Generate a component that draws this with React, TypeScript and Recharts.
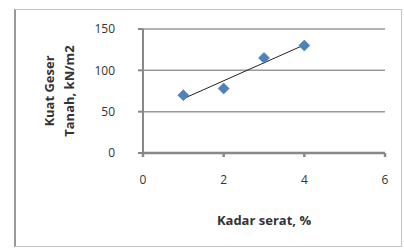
import { ScatterChart, Scatter, XAxis, YAxis, CartesianGrid, ReferenceLine } from 'recharts';

const fiberContent = [1, 2, 3, 4];
const shearStrength = [70, 78, 115, 130];
const xTicks = [0, 2, 4, 6];
const yTicks = [0, 50, 100, 150];

const points = fiberContent.map((x, i) => ({ x, y: shearStrength[i] }));

// linear trendline (least squares) like Excel's
const n = points.length;
const meanX = fiberContent.reduce((a, b) => a + b, 0) / n;
const meanY = shearStrength.reduce((a, b) => a + b, 0) / n;
const slope =
  points.reduce((s, p) => s + (p.x - meanX) * (p.y - meanY), 0) /
  points.reduce((s, p) => s + (p.x - meanX) ** 2, 0);
const intercept = meanY - slope * meanX;
const fit = (x: number) => slope * x + intercept;
const xMin = Math.min(...fiberContent);
const xMax = Math.max(...fiberContent);

const FONT = '"Open Sans", "Liberation Sans", sans-serif';

const YLabel = () => (
  <text
    transform="translate(60, 91) rotate(-90)"
    textAnchor="middle"
    fontFamily={FONT}
    fontSize={13}
    fontWeight="bold"
    fill="#333"
  >
    <tspan x={0} dy={-6}>Kuat Geser</tspan>
    <tspan x={0} dy={20}>Tanah, kN/m2</tspan>
  </text>
);

const Diamond = (props: any) => {
  const { cx, cy } = props;
  const r = 5.5;
  return (
    <polygon
      points={`${cx},${cy - r} ${cx + r},${cy} ${cx},${cy + r} ${cx - r},${cy}`}
      fill="#4f81bd"
      stroke="#3a6aa3"
      strokeWidth={0.5}
    />
  );
};

export default function App() {
  return (
    <div style={{ position: 'fixed', left: 0, top: 0, width: 404, height: 248, background: '#fff' }}>
      <div
        style={{
          position: 'absolute',
          left: 14,
          top: 9,
          width: 385,
          height: 236,
          border: '1px solid #c4c4c4',
          borderLeft: '2px solid #999',
        }}
      />
      <ScatterChart
        width={404}
        height={248}
        margin={{ top: 29, right: 19, bottom: 65, left: 0 }}
        style={{ position: 'absolute', left: 0, top: 0 }}
      >
        <CartesianGrid vertical={false} stroke="#999" strokeWidth={1.5} />
        <XAxis
          type="number"
          dataKey="x"
          domain={[0, 6]}
          ticks={xTicks}
          height={30}
          stroke="#888"
          strokeWidth={2.5}
          tickSize={4}
          tickMargin={18}
          tick={{ fill: '#333', fontSize: 12, fontFamily: FONT }}
          label={{
            value: 'Kadar serat, %',
            position: 'insideBottom',
            offset: -42,
            fill: '#333',
            fontSize: 13,
            fontWeight: 'bold',
            fontFamily: FONT,
          }}
        />
        <YAxis
          type="number"
          dataKey="y"
          domain={[0, 150]}
          ticks={yTicks}
          width={143}
          stroke="#888"
          strokeWidth={2}
          tickSize={5}
          tickMargin={23}
          tick={{ fill: '#333', fontSize: 12, fontFamily: FONT }}
          label={{ content: <YLabel /> }}
        />
        <ReferenceLine
          segment={[
            { x: xMin, y: fit(xMin) },
            { x: xMax, y: fit(xMax) },
          ]}
          stroke="#222"
          strokeWidth={1}
        />
        <Scatter data={points} shape={<Diamond />} isAnimationActive={false} />
      </ScatterChart>
    </div>
  );
}
